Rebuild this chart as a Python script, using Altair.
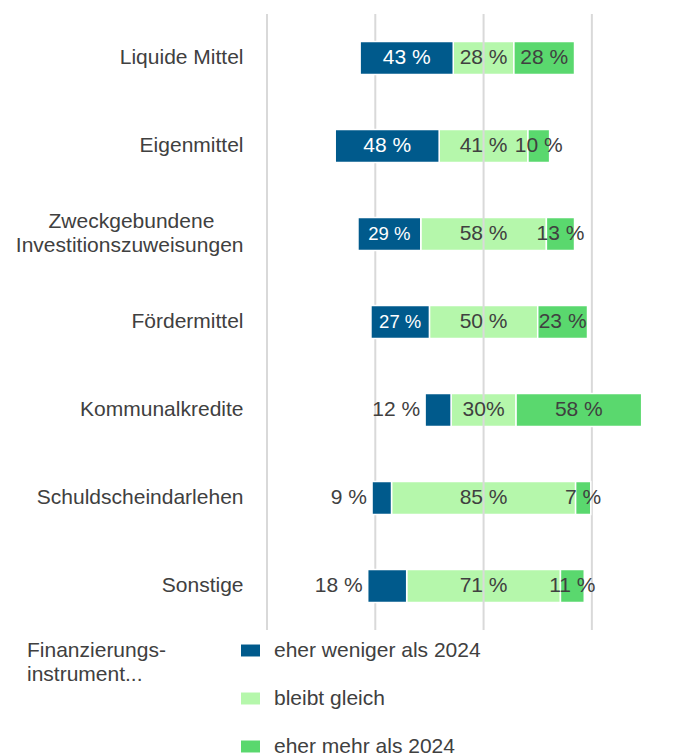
import altair as alt
import pandas as pd

categories = ["Liquide Mittel", "Eigenmittel", "Zweckgebundene\nInvestitionszuweisungen",
              "Fördermittel", "Kommunalkredite", "Schuldscheindarlehen", "Sonstige"]
weniger = [43, 48, 29, 27, 12, 9, 18]
gleich = [28, 41, 58, 50, 30, 85, 71]
mehr = [28, 10, 13, 23, 58, 7, 11]
weniger_labels = ["43 %", "48 %", "29 %", "27 %", "12 %", "9 %", "18 %"]
gleich_labels = ["28 %", "41 %", "58 %", "50 %", "30%", "85 %", "71 %"]
mehr_labels = ["28 %", "10 %", "13 %", "23 %", "58 %", "7 %", "11 %"]
series = ["eher weniger als 2024", "bleibt gleich", "eher mehr als 2024"]
colors = ["#005A8C", "#B5F7AB", "#5AD86E"]
grid_values = [-100, -50, 0, 50]

rows = []
for i, c in enumerate(categories):
    g0 = -gleich[i] / 2
    g1 = gleich[i] / 2
    rows.append(dict(cat=c, series=series[0], start=g0 - weniger[i], end=g0,
                     value=weniger[i], label=weniger_labels[i]))
    rows.append(dict(cat=c, series=series[1], start=g0, end=g1,
                     value=gleich[i], label=gleich_labels[i]))
    rows.append(dict(cat=c, series=series[2], start=g1, end=g1 + mehr[i],
                     value=mehr[i], label=mehr_labels[i]))
df = pd.DataFrame(rows)
df["mid"] = (df["start"] + df["end"]) / 2
df["inside"] = ~((df["series"] == series[0]) & (df["value"] < 20))

FONT = "Liberation Sans"
GREY = "#404040"
FS = 21
xscale = alt.Scale(domain=[-100, 75], nice=False, zero=False)

# first line of a two-line label is centred over the second (padding keeps it off the right edge)
label_expr = (
    "indexof(datum.label, '\\n') >= 0 ? "
    "[split(datum.label, '\\n')[0] + '\u00a0\u00a0\u00a0\u00a0\u00a0\u200b', split(datum.label, '\\n')[1]]"
    " : datum.label"
)

yenc = alt.Y(
    "cat:N", sort=categories, title=None,
    scale=alt.Scale(paddingInner=0.625, paddingOuter=0.3125),
    axis=alt.Axis(domain=False, ticks=False, grid=False, labelFont=FONT,
                  labelFontSize=FS, labelColor=GREY, labelPadding=24,
                  labelExpr=label_expr, labelLimit=400,
                  labelOffset=alt.ExprRef("indexof(datum.label, '\\n') >= 0 ? -12 : 0"),
                  labelLineHeight=24, minExtent=259, maxExtent=259),
)

legend = alt.Legend(
    orient="none", legendX=-240, legendY=626, direction="vertical",
    title=["Finanzierungs-", "instrument..."], titleOrient="left",
    titleAnchor="start", titleAlign="left", titleBaseline="top",
    titleFont=FONT, titleFontSize=FS, titleFontWeight="normal",
    titleColor=GREY, titlePadding=74, titleLimit=300, titleLineHeight=24,
    labelFont=FONT, labelFontSize=FS, labelColor=GREY, labelLimit=400,
    labelOffset=13, symbolType="M-1,-0.63L1,-0.63L1,0.63L-1,0.63Z",
    symbolSize=361, symbolStrokeWidth=0, symbolOpacity=1, rowPadding=26,
)
color = alt.Color("series:N", sort=series,
                  scale=alt.Scale(domain=series, range=colors), legend=legend)

base = alt.Chart(df).encode(y=yenc)

bars_g = base.transform_filter(alt.datum.series == series[1]).mark_bar(
    stroke="white", strokeWidth=1.5).encode(
    x=alt.X("start:Q", scale=xscale, axis=None), x2="end:Q", color=color)

rules = alt.Chart(pd.DataFrame({"g": grid_values})).mark_rule(
    color="#d9d9d9", strokeWidth=2).encode(
    x=alt.X("g:Q", scale=xscale, axis=None))

bars_o = base.transform_filter(alt.datum.series != series[1]).mark_bar(
    stroke="white", strokeWidth=1.5).encode(
    x=alt.X("start:Q", scale=xscale, axis=None), x2="end:Q", color=color)

text_in = base.transform_filter("datum.inside").mark_text(
    font=FONT, fontSize=FS).encode(
    x=alt.X("mid:Q", scale=xscale, axis=None), text="label:N",
    color=alt.condition(alt.datum.series == series[0], alt.value("white"), alt.value(GREY)),
    size=alt.condition((alt.datum.series == series[0]) & (alt.datum.value < 35),
                       alt.value(18.5), alt.value(FS)))

text_out = base.transform_filter("!datum.inside").mark_text(
    font=FONT, fontSize=FS, align="right", dx=-5, color=GREY).encode(
    x=alt.X("start:Q", scale=xscale, axis=None), text="label:N")

chart = alt.layer(bars_g, rules, bars_o, text_in, text_out).properties(
    width=379, height=616,
    padding={"left": 0, "top": 5, "right": 5, "bottom": 5},
).configure_view(stroke=None)

chart.save("out.html", embed_options={"renderer": "svg", "actions": False})
